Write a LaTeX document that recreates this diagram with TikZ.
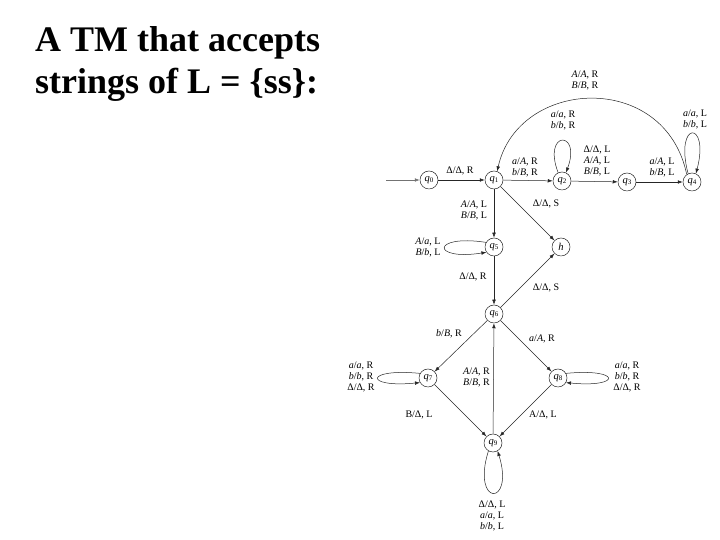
\documentclass[tikz,border=0pt]{standalone}
\usepackage{fontspec}
\setmainfont{Liberation Serif}
\usetikzlibrary{arrows.meta}
\newcommand{\tmv}[1]{\textit{#1}}
\newcommand{\tmq}[1]{\textit{q}\raisebox{-0.25ex}{\fontsize{7}{7}\selectfont #1}}
\begin{document}
\begin{tikzpicture}[x=1pt,y=1pt,
  st/.style={circle,draw=black!85,line width=0.5pt,minimum size=18pt,inner sep=0pt,font=\fontsize{10.5}{10.5}\selectfont},
  lbl/.style={font=\fontsize{10}{11}\selectfont,align=center,inner sep=0pt},
  tr/.style={draw=black!85,line width=0.5pt,-{Latex[length=5pt,width=3.6pt]}},
  ttl/.style={font=\fontsize{36}{42}\selectfont\bfseries,anchor=base west,inner sep=0pt}]
\useasboundingbox (0,0) rectangle (720,540);
% title
\node[ttl] (t1) at (35,488) {A TM that accepts};
\node[ttl] (t2) at (35,446) {strings of L = \{ss\}:};
% states
\node[st] (q0) at (429,360) {\tmq{0}};
\node[st] (q1) at (494,360) {\tmq{1}};
\node[st] (q2) at (562,359) {\tmq{2}};
\node[st] (q3) at (627,358) {\tmq{3}};
\node[st] (q4) at (692,358) {\tmq{4}};
\node[st] (q5) at (494,293) {\tmq{5}};
\node[st] (h)  at (561,293) {\tmv{h}};
\node[st] (q6) at (494,226) {\tmq{6}};
\node[st] (q7) at (428,162) {\tmq{7}};
\node[st] (q8) at (558,162) {\tmq{8}};
\node[st] (q9) at (493,97)  {\tmq{9}};
% start
\coordinate (s0) at (386,360);
\draw[tr,draw=black!55] (s0) -- (q0);
% straight transitions
\draw[tr] (q0) -- (q1);
\draw[tr] (q1) -- (q2);
\draw[tr] (q2) -- (q3);
\draw[tr] (q3) -- (q4);
\draw[tr] (q1) -- (q5);
\draw[tr] (q1) -- (h);
\draw[tr] (q5) -- (q6);
\draw[tr] (q6) -- (h);
\draw[tr] (q6) -- (q7);
\draw[tr] (q6) -- (q8);
\draw[tr] (q7) -- (q9);
\draw[tr] (q8) -- (q9);
\draw[tr] (q9) -- (q6);
% arc q4 -> q1
\draw[tr] (q4.125) .. controls (665,470) and (518,462) .. (q1.70);
% loops
\draw[tr] (q2.115) .. controls (542,410) and (582,410) .. (q2.65);
\draw[tr] (q4.115) .. controls (674,420) and (710,420) .. (q4.65);
\draw[tr] (q5.150) .. controls (431,306) and (431,279) .. (q5.215);
\draw[tr] (q7.150) .. controls (364,172) and (364,152) .. (q7.210);
\draw[tr] (q8.30) .. controls (622,172) and (622,152) .. (q8.-30);
\draw[tr] (q9.240) .. controls (471,33) and (515,33) .. (q9.300);
% labels
\node[lbl] (l01) at (460,369) {Δ/Δ, R};
\node[lbl] (l12) at (525,373) {\tmv{a}/\tmv{A}, R\\\tmv{b}/\tmv{B}, R};
\node[lbl] (l22) at (563,420) {\tmv{a}/\tmv{a}, R\\\tmv{b}/\tmv{b}, R};
\node[lbl] (l23) at (597,379) {Δ/Δ, L\\\tmv{A}/\tmv{A}, L\\\tmv{B}/\tmv{B}, L};
\node[lbl] (l34) at (662,373) {\tmv{a}/\tmv{A}, L\\\tmv{b}/\tmv{B}, L};
\node[lbl] (l44) at (695,421) {\tmv{a}/\tmv{a}, L\\\tmv{b}/\tmv{b}, L};
\node[lbl] (l41) at (585,460) {\tmv{A}/\tmv{A}, R\\\tmv{B}/\tmv{B}, R};
\node[lbl] (l15) at (474,330) {\tmv{A}/\tmv{A}, L\\\tmv{B}/\tmv{B}, L};
\node[lbl] (l1h) at (546,336) {Δ/Δ, S};
\node[lbl] (l55) at (428,293) {\tmv{A}/\tmv{a}, L\\\tmv{B}/\tmv{b}, L};
\node[lbl] (l56) at (473,263) {Δ/Δ, R};
\node[lbl] (l6h) at (546,252) {Δ/Δ, S};
\node[lbl] (l67) at (449,206) {\tmv{b}/\tmv{B}, R};
\node[lbl] (l68) at (542,201) {\tmv{a}/\tmv{A}, R};
\node[lbl] (l77) at (361,163) {\tmv{a}/\tmv{a}, R\\\tmv{b}/\tmv{b}, R\\Δ/Δ, R};
\node[lbl] (l88) at (627,163) {\tmv{a}/\tmv{a}, R\\\tmv{b}/\tmv{b}, R\\Δ/Δ, R};
\node[lbl,anchor=east,align=right] (l96) at (490,163) {\tmv{A}/\tmv{A}, R\\\tmv{B}/\tmv{B}, R};
\node[lbl] (l79) at (419,125) {B/Δ, L};
\node[lbl] (l89) at (543,125) {A/Δ, L};
\node[lbl] (l99) at (492,24) {Δ/Δ, L\\\tmv{a}/\tmv{a}, L\\\tmv{b}/\tmv{b}, L};
\end{tikzpicture}
\end{document}
